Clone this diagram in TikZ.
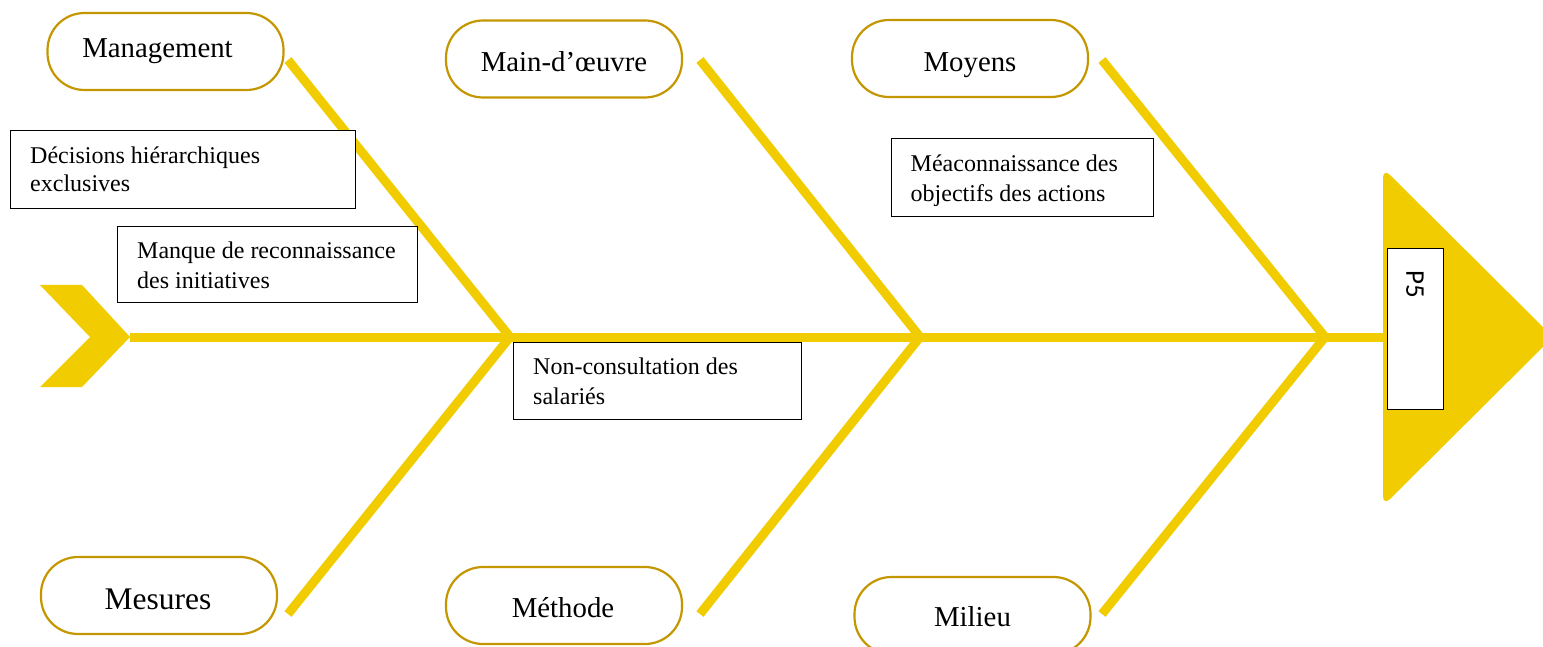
\documentclass[tikz,border=0pt]{standalone}
\usepackage{fontspec}
\setmainfont{Liberation Serif}
\newfontfamily\headfont{Carlito}
% shift a category label horizontally (#1 = twice the shift) and vertically (#2)
\newcommand{\cattext}[3]{\hspace*{#1}\raisebox{#2}{#3}}
\begin{document}
\begin{tikzpicture}[x=1pt,y=-1pt,
  bone/.style={line width=9pt, draw=fishyellow},
  category/.style={draw=catgold, line width=2.2pt, fill=white, rounded corners=37pt,
    minimum width=236pt, minimum height=77pt, inner sep=0pt,
    text height=10pt, text depth=10pt,
    font=\fontsize{28.8}{34}\selectfont},
  causebox/.style={draw=black, line width=1pt, fill=white, anchor=north west, inner sep=0pt},
  causeline/.style={anchor=base west, inner sep=0pt, font=\fontsize{24}{30}\selectfont}]
\definecolor{fishyellow}{RGB}{240,204,0}
\definecolor{catgold}{RGB}{196,150,0}
\useasboundingbox (0,0) rectangle (1543,647);
\clip (0,0) rectangle (1543,647);

% junctions on the spine
\coordinate (j1) at (510,337);
\coordinate (j2) at (920,337);
\coordinate (j3) at (1325,337);
\coordinate (tailtip) at (130,337);
\coordinate (headbase) at (1386,337);

% bone ends
\coordinate (u1) at (288,60);
\coordinate (u2) at (700,60);
\coordinate (u3) at (1102,60);
\coordinate (l1) at (288,614);
\coordinate (l2) at (700,614);
\coordinate (l3) at (1102,614);

% tail
\fill[fishyellow] (40,285) -- (82,285) -- (130,337) -- (82,387) -- (40,387) -- (90,337) -- cycle;

% head
\fill[fishyellow, rounded corners=10pt] (1383,168) -- (1553,337) -- (1383,506) -- cycle;

% spine and bones
\draw[bone] (tailtip) -- (headbase);
\draw[bone] (u1) -- (j1) -- (l1);
\draw[bone] (u2) -- (j2) -- (l2);
\draw[bone] (u3) -- (j3) -- (l3);

% effect box
\node[draw=black, line width=1pt, fill=white, minimum width=56pt, minimum height=160pt,
  inner sep=0pt] (effect) at (1415,329) {};
\node[rotate=-90, font=\headfont\fontsize{27}{30}\selectfont] (p5) at (1415,284) {P5};

% categories
\node[category] (mgmt) at (165.5,51.5) {\cattext{-16pt}{-6pt}{Management}};
\node[category] (mo) at (564,59) {\cattext{0pt}{-12.3pt}{Main-d’\oe uvre}};
\node[category] (moy) at (970,58.5) {\cattext{0pt}{-12.8pt}{Moyens}};
\node[category, font=\fontsize{31.5}{38}\selectfont] (mes) at (159,595.5) {\cattext{-2pt}{-13.8pt}{Mesures}};
\node[category] (meth) at (564,605.5) {\cattext{-2pt}{-11.8pt}{Méthode}};
\node[category] (mil) at (972.5,615.5) {\cattext{0pt}{-11pt}{Milieu}};

% causes
\node[causebox, minimum width=345pt, minimum height=78pt] (c1) at (10,130) {};
\node[causeline] (t1) at (30,163.3) {Décisions hiérarchiques};
\node[causeline] (t1b) at (30,192) {exclusives};

\node[causebox, minimum width=300pt, minimum height=76pt] (c2) at (117,226) {};
\node[causeline] (t2) at (137,258.3) {Manque de reconnaissance};
\node[causeline] (t2b) at (137,288.3) {des initiatives};

\node[causebox, minimum width=288pt, minimum height=77pt] (c3) at (513,342) {};
\node[causeline] (t3) at (533,374) {Non-consultation des};
\node[causeline] (t3b) at (533,404.5) {salariés};

\node[causebox, minimum width=262pt, minimum height=78pt] (c4) at (891,138) {};
\node[causeline] (t4) at (910.5,171.5) {Méaconnaissance des};
\node[causeline] (t4b) at (910.5,201.5) {objectifs des actions};
\end{tikzpicture}
\end{document}
